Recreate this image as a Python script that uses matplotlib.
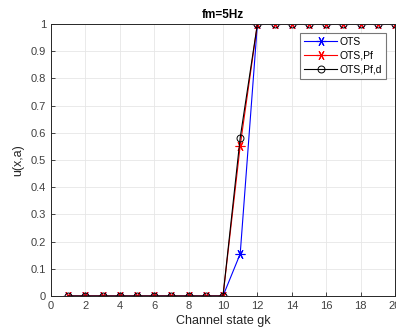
import matplotlib.pyplot as plt

states = list(range(1, 21))
u_ots = [0] * 10 + [0.155] + [1] * 9
u_ots_pf = [0] * 10 + [0.552] + [1] * 9
u_ots_pfd = [0] * 10 + [0.582] + [1] * 9
x_ticks = list(range(0, 21, 2))
y_ticks = [i / 10 for i in range(11)]


def main():
    plt.rcParams['font.family'] = ['Liberation Sans', 'DejaVu Sans']
    fig = plt.figure(figsize=(3.96, 3.34), dpi=100)
    ax = fig.add_axes([51 / 396, 1 - 296 / 334, 344 / 396, 272 / 334])

    star = (6, 2, 30)
    ax.plot(states, u_ots, color='blue', marker=star, lw=0.8, ms=7, mew=0.8, label='OTS')
    ax.plot(states, u_ots_pf, color='red', marker=star, lw=0.8, ms=7, mew=0.8, label='OTS,Pf')
    ax.plot(states, u_ots_pfd, color='black', marker='o', lw=0.8, ms=5, mfc='none', mew=0.7, label='OTS,Pf,d')

    ax.set_xlim(0, 20)
    ax.set_ylim(0, 1)
    ax.set_xticks(x_ticks)
    ax.set_yticks(y_ticks)
    ax.set_yticklabels(['0'] + ['%.1f' % v for v in y_ticks[1:-1]] + ['1'])
    ax.tick_params(direction='in', labelsize=8, colors='#262626', labelcolor='#404040', length=3, width=0.6)
    ax.grid(True, color='#e6e6e6', lw=0.6)
    ax.set_axisbelow(True)
    for s in ax.spines.values():
        s.set_linewidth(0.7)
        s.set_color('#262626')

    ax.set_title('fm=5Hz', fontsize=8.5, fontweight='bold', pad=4)
    ax.set_xlabel('Channel state gk', fontsize=9, color='#262626', labelpad=3)
    ax.set_ylabel('u(x,a)', fontsize=9, color='#262626', labelpad=5)

    leg = ax.legend(loc='upper right', bbox_to_anchor=(0.98, 0.975), fontsize=7.5, fancybox=False,
                    edgecolor='#777777', framealpha=1, handlelength=3.2, borderpad=0.4,
                    labelspacing=0.35, handletextpad=0.2, borderaxespad=0.2)
    leg.get_frame().set_linewidth(0.8)

    fig.savefig('out.png', dpi=100)


if __name__ == "__main__":
    main()
